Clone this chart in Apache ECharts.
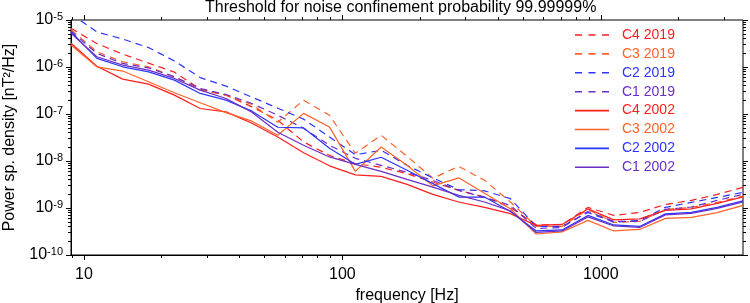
<!DOCTYPE html>
<html><head><meta charset="utf-8">
<script src="https://cdn.jsdelivr.net/npm/echarts@6/dist/echarts.min.js"></script>
<style>html,body{margin:0;padding:0;background:#fff}#c{width:750px;height:303px}</style>
</head><body><div id="c"></div>
<script>
// frequency bins [Hz]
const frequencies = [8.9125, 11.220, 14.125, 17.783, 22.387, 28.184, 35.481, 44.668, 56.234, 70.795, 89.125, 112.20, 141.25, 177.83, 223.87, 281.84, 354.81, 446.68, 562.34, 707.95, 891.25, 1122.0, 1412.5, 1778.3, 2238.7, 2818.4, 3548.1];

// power spectral density thresholds [nT^2/Hz]
const c4_2019 = [6.67e-6, 3.16e-6, 1.88e-6, 1.21e-6, 7.79e-7, 3.38e-7, 2.52e-7, 1.42e-7, 7.38e-8, 2.54e-8, 1.32e-8, 8.8e-9, 7.35e-9, 5.38e-9, 3.57e-9, 2.37e-9, 1.71e-9, 1.03e-9, 4.4e-10, 4.4e-10, 1.03e-9, 6.95e-10, 8.05e-10, 1.19e-9, 1.45e-9, 1.95e-9, 2.75e-9];
const c3_2019 = [6.27e-6, 2.11e-6, 1.29e-6, 1.01e-6, 6.19e-7, 3.22e-7, 2.52e-7, 1.59e-7, 6.7e-8, 1.97e-7, 9.4e-8, 1.46e-8, 3.53e-8, 1.26e-8, 4.28e-9, 7.7e-9, 3.88e-9, 1.34e-9, 4.05e-10, 4.05e-10, 9.35e-10, 4.93e-10, 5.18e-10, 9.35e-10, 1.03e-9, 1.32e-9, 1.77e-9];
const c2_2019 = [1.36e-5, 5.57e-6, 3.93e-6, 2.59e-6, 1.34e-6, 5.95e-7, 3.92e-7, 2.28e-7, 1.33e-7, 7.76e-8, 3.25e-8, 1.36e-8, 1.69e-8, 8.1e-9, 4.38e-9, 2.46e-9, 2.32e-9, 1.58e-9, 4.05e-10, 4.05e-10, 8.05e-10, 5.0e-10, 5.45e-10, 1.03e-9, 1.32e-9, 1.68e-9, 2.15e-9];
const c1_2019 = [5.83e-6, 1.95e-6, 1.19e-6, 9.6e-7, 6.19e-7, 3.5e-7, 2.6e-7, 1.67e-7, 9.4e-8, 4.98e-8, 2.16e-8, 1.14e-8, 8.1e-9, 5.74e-9, 3.88e-9, 2.37e-9, 1.68e-9, 1.14e-9, 3.67e-10, 3.86e-10, 8.45e-10, 5.18e-10, 5.18e-10, 9.35e-10, 1.05e-9, 1.45e-9, 1.95e-9];
const c4_2002 = [3.19e-6, 1.04e-6, 5.53e-7, 4.32e-7, 2.52e-7, 1.31e-7, 1.11e-7, 6.36e-8, 3.25e-8, 1.5e-8, 7.9e-9, 5.08e-9, 4.72e-9, 3.19e-9, 1.95e-9, 1.34e-9, 1.03e-9, 7.57e-10, 4.26e-10, 4.47e-10, 9.57e-10, 5.58e-10, 5.86e-10, 8.9e-10, 9.57e-10, 1.25e-9, 1.72e-9];
const c3_2002 = [2.93e-6, 1.01e-6, 8.2e-7, 4.84e-7, 2.84e-7, 1.74e-7, 1.07e-7, 7.03e-8, 3.53e-8, 1.03e-7, 5.31e-8, 6.03e-9, 1.99e-8, 8.1e-9, 2.96e-9, 4.38e-9, 2.05e-9, 9.66e-10, 2.8e-10, 3.09e-10, 5.45e-10, 3.25e-10, 3.5e-10, 6.0e-10, 6.31e-10, 7.97e-10, 1.14e-9];
const c2_2002 = [5.63e-6, 1.53e-6, 1.01e-6, 7.9e-7, 5.26e-7, 2.74e-7, 1.97e-7, 1.15e-7, 5.23e-8, 5.05e-8, 1.87e-8, 8.5e-9, 1.2e-8, 6.33e-9, 3.3e-9, 1.71e-9, 1.71e-9, 8.45e-10, 3.25e-10, 3.41e-10, 6.95e-10, 4.36e-10, 4.05e-10, 7.5e-10, 8.05e-10, 1.03e-9, 1.42e-9];
const c1_2002 = [5.2e-6, 1.65e-6, 1.1e-6, 8.6e-7, 5.71e-7, 3.22e-7, 2.14e-7, 1.09e-7, 4.09e-8, 2.16e-8, 1.22e-8, 8.5e-9, 6.03e-9, 4.07e-9, 2.79e-9, 1.86e-9, 1.34e-9, 8.69e-10, 3.02e-10, 3.25e-10, 6.47e-10, 4.15e-10, 3.86e-10, 7.14e-10, 7.68e-10, 9.8e-10, 1.35e-9];

const seriesNames = ['C4 2019', 'C3 2019', 'C2 2019', 'C1 2019', 'C4 2002', 'C3 2002', 'C2 2002', 'C1 2002'];

// axis tick values
const xTicksMajor = [10, 100, 1000];
const xTicksMinor = [9, 20, 30, 40, 50, 60, 70, 80, 90, 200, 300, 400, 500, 600, 700, 800, 900, 2000, 3000];
const yTicksMajor = [1e-10, 1e-9, 1e-8, 1e-7, 1e-6, 1e-5];
const yTicksMinor = [2e-10,3e-10,4e-10,5e-10,6e-10,7e-10,8e-10,9e-10, 2e-9,3e-9,4e-9,5e-9,6e-9,7e-9,8e-9,9e-9, 2e-8,3e-8,4e-8,5e-8,6e-8,7e-8,8e-8,9e-8, 2e-7,3e-7,4e-7,5e-7,6e-7,7e-7,8e-7,9e-7, 2e-6,3e-6,4e-6,5e-6,6e-6,7e-6,8e-6,9e-6];

const X_MIN = frequencies[0], X_MAX = frequencies[frequencies.length - 1];
const Y_MIN = 1e-10, Y_MAX = 1e-5;

const RED = '#ff1e1e', ORANGE = '#ff6228', BLUE = '#2b35ff', PURPLE = '#6a2ec4';
const defs = [
  {name: seriesNames[0], data: c4_2019, color: RED, dashed: true},
  {name: seriesNames[1], data: c3_2019, color: ORANGE, dashed: true},
  {name: seriesNames[2], data: c2_2019, color: BLUE, dashed: true},
  {name: seriesNames[3], data: c1_2019, color: PURPLE, dashed: true},
  {name: seriesNames[4], data: c4_2002, color: RED, dashed: false},
  {name: seriesNames[5], data: c3_2002, color: ORANGE, dashed: false},
  {name: seriesNames[6], data: c2_2002, color: BLUE, dashed: false},
  {name: seriesNames[7], data: c1_2002, color: PURPLE, dashed: false}
];

const FONT = '"Liberation Sans", Arial, Helvetica, sans-serif';
const ICON_DASHED = 'path://M0,0h7v1.6h-7z M13.5,0h7v1.6h-7z M27,0h7v1.6h-7z';
const ICON_SOLID = 'path://M0,0h34v1.6h-34z';

function isPow10(v) {
  const l = Math.log10(v);
  return Math.abs(l - Math.round(l)) < 1e-6;
}

const lineSeries = defs.map(d => ({
  name: d.name,
  type: 'line',
  xAxisIndex: 0, yAxisIndex: 0,
  data: frequencies.map((f, i) => [f, d.data[i]]),
  symbol: 'none',
  showSymbol: false,
  clip: true,
  color: d.color,
  itemStyle: {color: d.color},
  lineStyle: {color: d.color, width: 1.2, type: d.dashed ? [7, 5] : 'solid'},
  emphasis: {disabled: true},
  animation: false
}));

// tick-only companion axes (same scale, labels hidden) for the other sides and minor ticks
function tickAxis(kind, position, values, len) {
  const isX = kind === 'x';
  return {
    type: 'log', logBase: 10, gridIndex: 0, position: position,
    min: isX ? X_MIN : Y_MIN, max: isX ? X_MAX : Y_MAX,
    axisLine: {show: false},
    axisLabel: {show: false},
    splitLine: {show: false},
    axisTick: {show: true, inside: false, length: len, customValues: values, lineStyle: {color: '#000', width: 1}}
  };
}

const chart = echarts.init(document.getElementById('c'), null, {renderer: 'canvas'});
chart.setOption({
  animation: false,
  backgroundColor: '#fff',
  textStyle: {fontFamily: FONT},
  title: {
    text: 'Threshold for noise confinement probability 99.99999%',
    left: 205, top: 0, padding: 0,
    textStyle: {fontFamily: FONT, fontSize: 16, fontWeight: 'normal', color: '#000'}
  },
  legend: {
    orient: 'vertical',
    left: 575, top: 28, padding: 0,
    itemWidth: 34, itemHeight: 14, itemGap: 4.9,
    symbolKeepAspect: true,
    data: defs.map(d => ({
      name: d.name,
      icon: d.dashed ? ICON_DASHED : ICON_SOLID,
      itemStyle: {color: d.color},
      textStyle: {color: d.color}
    })),
    textStyle: {fontFamily: FONT, fontSize: 14, padding: [0, 0, 0, 8]},
    selectedMode: false
  },
  grid: {
    left: 71, right: 7, top: 20, bottom: 48,
    outerBoundsMode: 'none',
    containLabel: false,
    show: true, borderColor: '#000', borderWidth: 1, backgroundColor: 'transparent'
  },
  xAxis: [{
    type: 'log', logBase: 10, min: X_MIN, max: X_MAX, position: 'bottom',
    name: 'frequency [Hz]', nameLocation: 'middle', nameGap: 30,
    nameTextStyle: {fontFamily: FONT, fontSize: 16, color: '#000'},
    axisLine: {show: true, lineStyle: {color: '#000'}},
    axisTick: {show: true, inside: false, length: 5, customValues: xTicksMajor, lineStyle: {color: '#000', width: 1}},
    splitLine: {show: false},
    axisLabel: {
      margin: 12, color: '#000', fontFamily: FONT, fontSize: 16,
      customValues: xTicksMajor,
      formatter: v => isPow10(v) ? String(Math.round(v)) : ''
    }
  },
    tickAxis('x', 'bottom', xTicksMinor, 3),
    tickAxis('x', 'top', xTicksMajor, 5),
    tickAxis('x', 'top', xTicksMinor, 3)
  ],
  yAxis: [{
    type: 'log', logBase: 10, min: Y_MIN, max: Y_MAX, position: 'left',
    name: 'Power sp. density [nT²/Hz]', nameLocation: 'middle', nameGap: 53,
    nameTextStyle: {fontFamily: FONT, fontSize: 16, color: '#000'},
    axisLine: {show: true, lineStyle: {color: '#000'}},
    axisTick: {show: true, inside: false, length: 5, customValues: yTicksMajor, lineStyle: {color: '#000', width: 1}},
    splitLine: {show: false},
    axisLabel: {
      margin: 8, color: '#000',
      customValues: yTicksMajor,
      formatter: v => isPow10(v) ? '{b|10}{s|' + Math.round(Math.log10(v)) + '}' : '',
      rich: {
        b: {fontFamily: FONT, fontSize: 16, color: '#000', lineHeight: 18},
        s: {fontFamily: FONT, fontSize: 11, color: '#000', verticalAlign: 'top', lineHeight: 12}
      }
    }
  },
    tickAxis('y', 'left', yTicksMinor, 3),
    tickAxis('y', 'right', yTicksMajor, 5),
    tickAxis('y', 'right', yTicksMinor, 3)
  ],
  series: lineSeries
});
</script>
</body></html>
